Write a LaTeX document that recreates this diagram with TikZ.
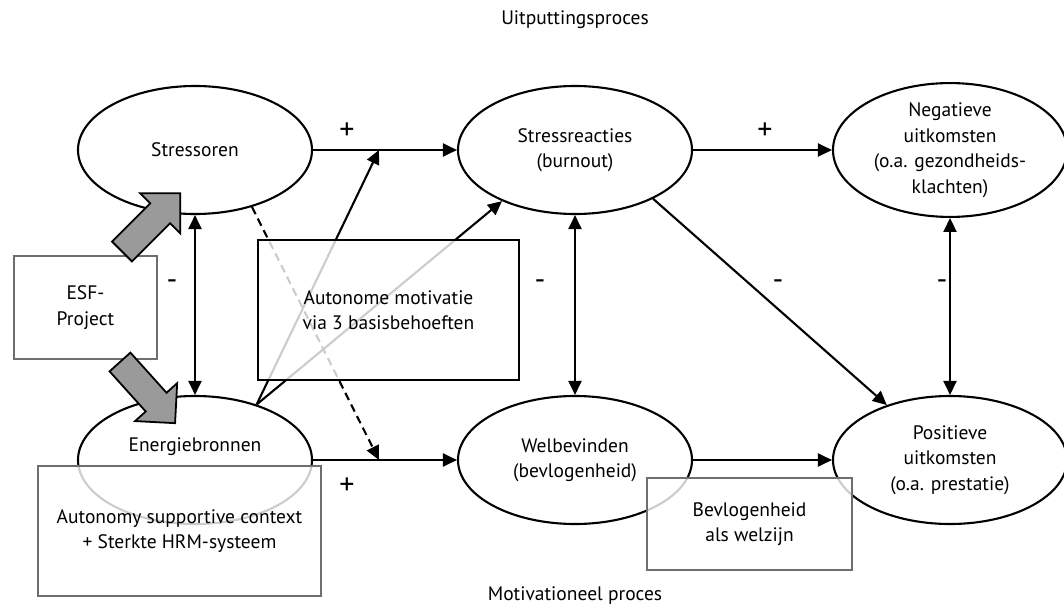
\documentclass[tikz,border=0pt]{standalone}
\usepackage{fontspec}
\setmainfont{PT Sans}
\usetikzlibrary{arrows.meta,shapes.geometric}
\definecolor{boxgray}{HTML}{6E6E6E}
\definecolor{blockgray}{HTML}{9A9A9A}
\begin{document}
\begin{tikzpicture}[x=1pt,y=-1pt,
  every node/.style={font=\fontsize{19.5}{25.5}\selectfont, text=black},
  state/.style={ellipse, draw, line width=2.1pt, minimum width=234pt, minimum height=128pt, align=center, inner sep=0pt},
  link/.style={line width=2.1pt, -{Triangle[length=14pt,width=13pt]}},
  dlink/.style={line width=2.1pt, {Triangle[length=14pt,width=13pt]}-{Triangle[length=14pt,width=13pt]}},
  panel/.style={rectangle, fill=white, fill opacity=0.8, text opacity=1, line width=2.4pt, draw=boxgray, align=center, inner sep=0pt},
  sign/.style={font=\fontsize{30}{30}\selectfont},
  block/.style={fill=blockgray, draw=black, line width=1.8pt, line join=miter}
]
\useasboundingbox (0,0) rectangle (1064,607);

% titles
\node (t1) at (575,20) {Uitputtingsproces};
\node (t2) at (575,596) {Motivationeel proces};

% states
\node[state] (SO) at (195,150) {Stressoren};
\node[state] (SR) at (575,150) {Stressreacties\\(burnout)};
\node[state] (NE) at (950,150) {Negatieve\\uitkomsten\\(o.a. gezondheids-\\klachten)};
\node[state] (EB) at (195,460) {};
\node (EBt) at (195,447) {Energiebronnen};
\node[state] (WB) at (575,460) {Welbevinden\\(bevlogenheid)};
\node[state] (PO) at (950,460) {Positieve\\uitkomsten\\(o.a. prestatie)};

% junction points on the horizontal paths
\coordinate (mT) at (379,150);
\coordinate (mB) at (379,460);

% main paths
\draw[link] (SO.east) -- (SR.west);
\draw[link] (SR.east) -- (NE.west);
\draw[link] (EB.east) -- (WB.west);
\draw[link] (WB.east) -- (PO.west);
\draw[link] (SR.-32) -- (PO.139);
\draw[dlink] (SO.south) -- (EB.north);
\draw[dlink] (SR.south) -- (WB.north);
\draw[dlink] (NE.south) -- (PO.north);

% moderating paths
\draw[link] (EB.42) -- (mT);
\draw[link] (EB.42) -- (SR.215);
\draw[link, dash pattern=on 8pt off 5pt] (SO.-45) -- (mB);

% signs
\node[sign] (s1) at (347,131) {+};
\node[sign] (s2) at (765,131) {+};
\node[sign] (s3) at (347,486) {+};
\node[sign] (m1) at (172,285) {-};
\node[sign] (m2) at (540,285) {-};
\node[sign] (m3) at (778,285) {-};
\node[sign] (m4) at (942,285) {-};

% intervention boxes
\node[panel] (ESF) at (85.5,307.5) [minimum width=143pt, minimum height=103pt] {ESF-\\Project};
\node[panel, draw=black] (AM) at (388.5,310) [minimum width=261pt, minimum height=140pt] {Autonome motivatie\\via 3 basisbehoeften};
\node[panel] (ASC) at (179.5,531) [minimum width=283pt, minimum height=130pt] {Autonomy supportive context\\+ Sterkte HRM-systeem};
\node[panel] (BW) at (749.5,524) [minimum width=205pt, minimum height=92pt] {Bevlogenheid\\als welzijn};

% block arrows from the ESF box
\begin{scope}[shift={(122,251.5)}, rotate=45]
  \draw[block] (0,-14) -- (54,-14) -- (54,-28.3) -- (82.3,0) -- (54,28.3) -- (54,14) -- (0,14) -- cycle;
\end{scope}
\begin{scope}[shift={(120,362)}, rotate=-48]
  \draw[block] (0,-14) -- (54,-14) -- (54,-28.3) -- (82.3,0) -- (54,28.3) -- (54,14) -- (0,14) -- cycle;
\end{scope}
\end{tikzpicture}
\end{document}
